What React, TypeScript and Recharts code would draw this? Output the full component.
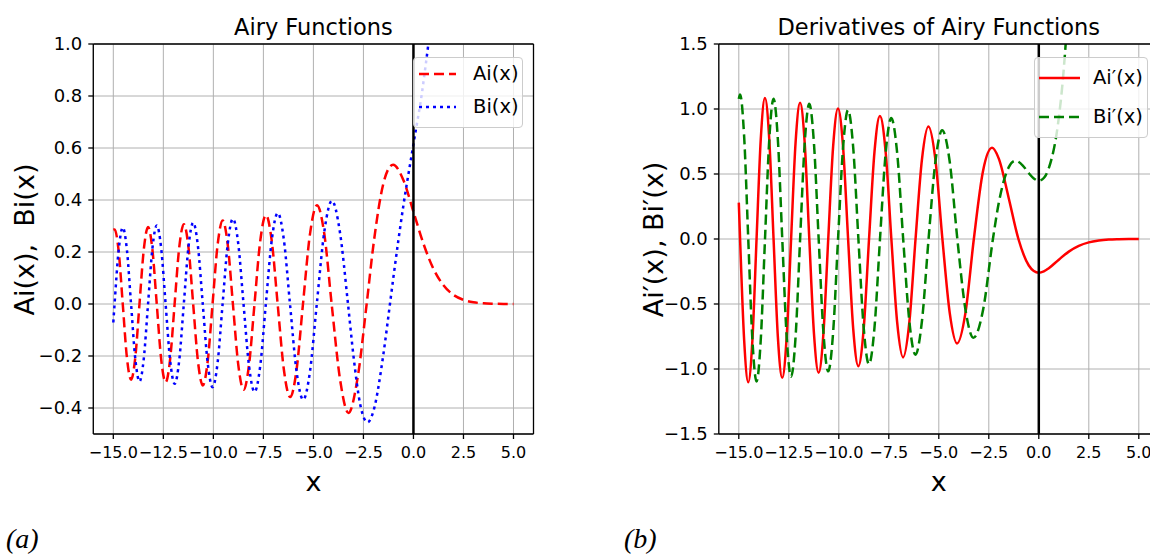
import React from "react";
import { LineChart, Line, XAxis, YAxis, CartesianGrid, ReferenceLine, Legend } from "recharts";

// values: extrema, zero crossings and points halfway between them
const aiX = [-15, -14.936, -14.732, -14.528, -14.32, -14.112, -13.902, -13.692, -13.477, -13.262, -13.046, -12.829, -12.607, -12.385, -12.161, -11.936, -11.706, -11.475, -11.242, -11.009, -10.769, -10.528, -10.284, -10.04, -9.788, -9.535, -9.279, -9.023, -8.756, -8.488, -8.216, -7.944, -7.658, -7.372, -7.08, -6.787, -6.475, -6.163, -5.842, -5.521, -5.171, -4.82, -4.454, -4.088, -3.668, -3.248, -2.793, -2.338, -2.0, -1.5, -1.25, -1.019, -0.5, 0, 0.5, 1, 1.5, 2, 2.5, 3, 3.5, 4, 4.5, 5];
const aiY = [0.286, 0.287, 0.203, 0, -0.206, -0.291, -0.206, 0, 0.209, 0.296, 0.209, 0, -0.213, -0.301, -0.213, 0, 0.217, 0.307, 0.217, 0, -0.221, -0.313, -0.221, 0, 0.227, 0.321, 0.227, 0, -0.233, -0.33, -0.233, 0, 0.242, 0.342, 0.242, 0, -0.253, -0.358, -0.253, 0, 0.269, 0.38, 0.269, 0, -0.29, -0.419, -0.285, 0, 0.227, 0.464, 0.52, 0.536, 0.476, 0.355, 0.232, 0.135, 0.072, 0.035, 0.016, 0.0066, 0.0025, 0.00095, 0.0003, 0.0001];

const biX = [-15, -14.937, -14.732, -14.527, -14.32, -14.113, -13.902, -13.69, -13.477, -13.264, -13.046, -12.827, -12.607, -12.386, -12.16, -11.934, -11.706, -11.477, -11.242, -11.007, -10.769, -10.53, -10.284, -10.038, -9.788, -9.538, -9.279, -9.02, -8.756, -8.492, -8.216, -7.94, -7.659, -7.377, -7.079, -6.781, -6.476, -6.17, -5.841, -5.512, -5.172, -4.831, -4.452, -4.073, -3.672, -3.271, -3.0, -2.65, -2.294, -2.0, -1.5, -1.174, -1.0, -0.5, 0, 0.5, 1, 1.5];
const biY = [-0.071, 0, 0.208, 0.294, 0.208, 0, -0.21, -0.298, -0.21, 0, 0.214, 0.302, 0.214, 0, -0.217, -0.307, -0.217, 0, 0.221, 0.313, 0.221, 0, -0.226, -0.32, -0.226, 0, 0.232, 0.328, 0.232, 0, -0.239, -0.338, -0.239, 0, 0.247, 0.35, 0.247, 0, -0.26, -0.368, -0.26, 0, 0.28, 0.397, 0.275, 0, -0.198, -0.39, -0.455, -0.412, -0.192, 0, 0.104, 0.38, 0.615, 0.854, 1.207, 1.879];

const daiX = [-15, -14.936, -14.732, -14.528, -14.32, -14.112, -13.902, -13.692, -13.477, -13.262, -13.046, -12.829, -12.607, -12.385, -12.161, -11.936, -11.706, -11.475, -11.242, -11.009, -10.769, -10.528, -10.284, -10.04, -9.788, -9.535, -9.279, -9.023, -8.756, -8.488, -8.216, -7.944, -7.658, -7.372, -7.08, -6.787, -6.475, -6.163, -5.842, -5.521, -5.171, -4.82, -4.454, -4.088, -3.668, -3.248, -2.793, -2.338, -2.0, -1.5, -1.019, -0.5, -0.25, 0, 0.25, 0.5, 1, 1.5, 2, 2.5, 3, 3.5, 4, 4.5, 5];
const daiY = [0.28, 0, -0.779, -1.102, -0.779, 0, 0.767, 1.085, 0.767, 0, -0.755, -1.068, -0.755, 0, 0.742, 1.049, 0.742, 0, -0.727, -1.028, -0.727, 0, 0.71, 1.004, 0.71, 0, -0.691, -0.978, -0.691, 0, 0.67, 0.947, 0.67, 0, -0.644, -0.911, -0.644, 0, 0.612, 0.865, 0.612, 0, -0.568, -0.803, -0.568, 0, 0.52, 0.701, 0.618, 0.312, 0, -0.204, -0.246, -0.259, -0.249, -0.225, -0.159, -0.097, -0.053, -0.026, -0.012, -0.0047, -0.002, -0.0007, -0.0002];

const dbiX = [-15, -14.937, -14.732, -14.527, -14.32, -14.113, -13.902, -13.69, -13.477, -13.264, -13.046, -12.827, -12.607, -12.386, -12.16, -11.934, -11.706, -11.477, -11.242, -11.007, -10.769, -10.53, -10.284, -10.038, -9.788, -9.538, -9.279, -9.02, -8.756, -8.492, -8.216, -7.94, -7.659, -7.377, -7.079, -6.781, -6.476, -6.17, -5.841, -5.512, -5.172, -4.831, -4.452, -4.073, -3.672, -3.271, -2.78, -2.294, -2.0, -1.5, -1.174, -0.8, -0.5, -0.25, 0, 0.25, 0.5, 1, 1.2, 1.4, 1.5];
const dbiY = [1.078, 1.112, 0.786, 0, -0.775, -1.096, -0.775, 0, 0.763, 1.079, 0.763, 0, -0.75, -1.06, -0.75, 0, 0.735, 1.04, 0.735, 0, -0.719, -1.018, -0.719, 0, 0.702, 0.992, 0.702, 0, -0.682, -0.964, -0.682, 0, 0.658, 0.93, 0.658, 0, -0.629, -0.89, -0.629, 0, 0.592, 0.837, 0.592, 0, -0.538, -0.76, -0.54, 0, 0.279, 0.553, 0.602, 0.565, 0.506, 0.466, 0.448, 0.469, 0.545, 0.932, 1.22, 1.63, 1.89];

const xTicks = [-15, -12.5, -10, -7.5, -5, -2.5, 0, 2.5, 5];
const yTicksA = [-0.4, -0.2, 0, 0.2, 0.4, 0.6, 0.8, 1.0];
const yTicksB = [-1.5, -1.0, -0.5, 0, 0.5, 1.0, 1.5];

const toPoints = (xs: number[], ys: number[]) => xs.map((x, i) => ({ x, y: ys[i] }));

const FONT = "'DejaVu Sans', sans-serif";
const fmt = (v: number) => (v < 0 ? "\u2212" : "") + Math.abs(v).toFixed(1);

const H = 556;
const TOP = 44;
const BOTTOM = 434;
const Y_W = 90;
const X_H = 50;

type Series = { name: string; data: { x: number; y: number }[]; color: string; dash?: string };
type LegendGeo = { left: number; top: number; w: number; h: number; rows: number[]; sx: [number, number]; tx: number };

const LegendBox = ({ series, geo }: { series: Series[]; geo: LegendGeo }) => (
  <div
    style={{
      position: "relative",
      width: geo.w,
      height: geo.h,
      boxSizing: "border-box",
      border: "1px solid #cccccc",
      borderRadius: 4,
      background: "rgba(255,255,255,0.8)",
      fontFamily: FONT,
      fontSize: 19.5,
      color: "#000",
    }}
  >
    <svg width={geo.w} height={geo.h} style={{ position: "absolute", left: -1, top: -1 }}>
      {series.map((s, i) => (
        <line
          key={s.name}
          x1={geo.sx[0]}
          x2={geo.sx[1]}
          y1={geo.rows[i]}
          y2={geo.rows[i]}
          stroke={s.color}
          strokeWidth={2.5}
          strokeDasharray={s.dash}
        />
      ))}
    </svg>
    {series.map((s, i) => (
      <span
        key={s.name}
        style={{ position: "absolute", left: geo.tx - 1, top: geo.rows[i] - 11, lineHeight: "20px", whiteSpace: "nowrap" }}
      >
        {s.name}
      </span>
    ))}
  </div>
);

const Panel = ({
  left,
  width,
  plotLeft,
  plotRight,
  title,
  yLabel,
  yLabelX,
  tag,
  tagX,
  yDomain,
  yTicks,
  series,
  legend,
}: {
  left: number;
  width: number;
  plotLeft: number;
  plotRight: number;
  title: string;
  yLabel: string;
  yLabelX: number;
  tag: string;
  tagX: number;
  yDomain: [number, number];
  yTicks: number[];
  series: Series[];
  legend: LegendGeo;
}) => {
  const plotW = plotRight - plotLeft;
  return (
    <div style={{ position: "absolute", left, top: 0, width, height: H }}>
      <LineChart
        width={width}
        height={H}
        margin={{ top: TOP, right: width - plotRight, bottom: H - BOTTOM - X_H, left: plotLeft - Y_W }}
      >
        <CartesianGrid stroke="#b0b0b0" strokeWidth={1} />
        <XAxis
          type="number"
          dataKey="x"
          domain={[-16, 6]}
          ticks={xTicks}
          interval={0}
          allowDataOverflow
          tickFormatter={fmt}
          height={X_H}
          tickSize={5}
          tickMargin={8}
          axisLine={{ stroke: "#000", strokeWidth: 1.3 }}
          tickLine={{ stroke: "#000", strokeWidth: 1.3 }}
          tick={{ fill: "#000", fontSize: 16, fontFamily: FONT }}
        />
        <YAxis
          type="number"
          domain={yDomain}
          ticks={yTicks}
          interval={0}
          allowDataOverflow
          tickFormatter={fmt}
          width={Y_W}
          tickSize={5}
          tickMargin={6}
          axisLine={{ stroke: "#000", strokeWidth: 1.3 }}
          tickLine={{ stroke: "#000", strokeWidth: 1.3 }}
          tick={{ fill: "#000", fontSize: 18, fontFamily: FONT }}
        />
        {series.map((s) => (
          <Line
            key={s.name}
            name={s.name}
            data={s.data}
            dataKey="y"
            type="monotone"
            stroke={s.color}
            strokeWidth={2.5}
            strokeDasharray={s.dash}
            dot={false}
            activeDot={false}
            isAnimationActive={false}
          />
        ))}
        <ReferenceLine x={0} stroke="#000" strokeWidth={2.5} />
        <ReferenceLine y={yDomain[1]} stroke="#000" strokeWidth={1.3} />
        <ReferenceLine x={6} stroke="#000" strokeWidth={1.3} />
        <Legend
          layout="vertical"
          align="center"
          verticalAlign="middle"
          wrapperStyle={{ left: legend.left - left, top: legend.top, width: legend.w, height: legend.h }}
          content={() => <LegendBox series={series} geo={legend} />}
        />
      </LineChart>
      <div
        style={{
          position: "absolute",
          left: plotLeft,
          width: plotW,
          top: 16,
          textAlign: "center",
          fontFamily: FONT,
          fontSize: 22.5,
          lineHeight: "22.5px",
          whiteSpace: "nowrap",
        }}
      >
        {title}
      </div>
      <div
        style={{
          position: "absolute",
          left: yLabelX - 150,
          top: (TOP + BOTTOM) / 2 - 13.5,
          width: 300,
          textAlign: "center",
          fontFamily: FONT,
          fontSize: 27,
          lineHeight: "27px",
          whiteSpace: "pre",
          transform: "rotate(-90deg)",
        }}
      >
        {yLabel}
      </div>
      <div
        style={{
          position: "absolute",
          left: plotLeft,
          width: plotW,
          top: 468,
          textAlign: "center",
          fontFamily: FONT,
          fontSize: 27,
          lineHeight: "27px",
        }}
      >
        x
      </div>
      <div
        style={{
          position: "absolute",
          left: tagX,
          top: 525,
          fontFamily: "'Liberation Serif', serif",
          fontStyle: "italic",
          fontSize: 28,
          lineHeight: "28px",
        }}
      >
        {tag}
      </div>
    </div>
  );
};

export default function App() {
  const left: Series[] = [
    { name: "Ai(x)", data: toPoints(aiX, aiY), color: "#ff0000", dash: "10 5" },
    { name: "Bi(x)", data: toPoints(biX, biY), color: "#0000ff", dash: "3 4" },
  ];
  const right: Series[] = [
    { name: "Ai\u2032(x)", data: toPoints(daiX, daiY), color: "#ff0000" },
    { name: "Bi\u2032(x)", data: toPoints(dbiX, dbiY), color: "#008000", dash: "10 5" },
  ];
  return (
    <div
      style={{
        position: "absolute",
        left: 0,
        top: 0,
        width: 1150,
        height: H,
        overflow: "hidden",
        background: "#fff",
        fontFamily: FONT,
      }}
    >
      <Panel
        left={0}
        width={560}
        plotLeft={93.3}
        plotRight={533.5}
        title="Airy Functions"
        yLabel={"Ai(x),  Bi(x)"}
        yLabelX={23.6}
        tag="(a)"
        tagX={6}
        yDomain={[-0.5, 1.0]}
        yTicks={yTicksA}
        series={left}
        legend={{ left: 413, top: 57, w: 110, h: 71, rows: [17, 50], sx: [6, 43], tx: 60 }}
      />
      <Panel
        left={600}
        width={580}
        plotLeft={118.8}
        plotRight={558.8}
        title="Derivatives of Airy Functions"
        yLabel={"Ai\u2032(x), Bi\u2032(x)"}
        yLabelX={53}
        tag="(b)"
        tagX={24}
        yDomain={[-1.5, 1.5]}
        yTicks={yTicksB}
        series={right}
        legend={{ left: 1034, top: 57, w: 114, h: 81, rows: [21, 60], sx: [5, 46], tx: 59 }}
      />
    </div>
  );
}
